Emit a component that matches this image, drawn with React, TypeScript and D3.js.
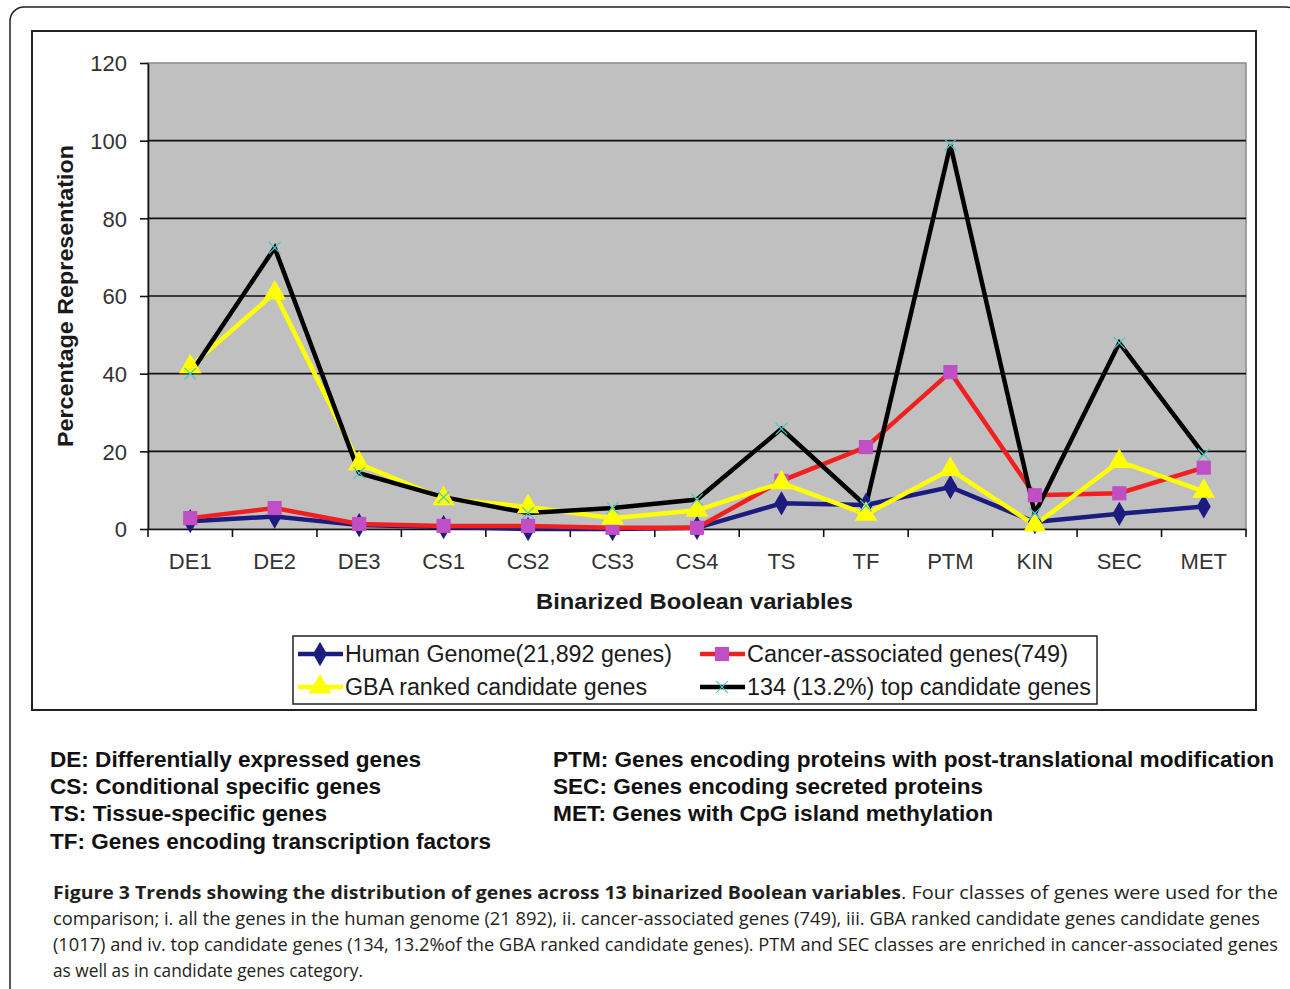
import * as d3 from 'd3';
import { useEffect, useRef } from 'react';

const categories = ['DE1', 'DE2', 'DE3', 'CS1', 'CS2', 'CS3', 'CS4', 'TS', 'TF', 'PTM', 'KIN', 'SEC', 'MET'];
const humanGenome = [2, 3.2, 1, 0.5, 0, 0, 0.3, 6.6, 6.2, 10.8, 1.8, 3.9, 5.8];
const cancerAssociated = [2.8, 5.4, 1.3, 0.8, 0.8, 0.3, 0.3, 12.4, 21.1, 40.4, 8.7, 9.2, 15.8];
const gbaRanked = [41.8, 60.8, 16.8, 7.8, 5.7, 2.8, 4.8, 11.9, 3.8, 15.3, 1, 17.4, 9.7];
const topCandidates = [40, 72.4, 14.4, 8.2, 4.1, 5.4, 7.6, 25.8, 6, 98.9, 4, 47.9, 19.2];
const yTicks = [0, 20, 40, 60, 80, 100, 120];

const legendLabels = [
    'Human Genome(21,892 genes)',
    'Cancer-associated genes(749)',
    'GBA ranked candidate genes',
    '134 (13.2%) top candidate genes',
];

const definitionsLeft = [
    'DE: Differentially expressed genes',
    'CS: Conditional specific genes',
    'TS: Tissue-specific genes',
    'TF: Genes encoding transcription factors',
];
const definitionsRight = [
    'PTM: Genes encoding proteins with post-translational modification',
    'SEC: Genes encoding secreted proteins',
    'MET: Genes with CpG island methylation',
];

const FONT = '"Liberation Sans", Arial, sans-serif';

type Series = { values: number[]; line: string; marker: string; shape: string; size: number };

const series: Series[] = [
    { values: humanGenome, line: '#1c1c80', marker: '#1c1c80', shape: 'diamond', size: 170 },
    { values: cancerAssociated, line: '#f02020', marker: '#c04ec4', shape: 'square', size: 200 },
    { values: gbaRanked, line: '#ffff00', marker: '#ffff00', shape: 'triangle', size: 220 },
    { values: topCandidates, line: '#000000', marker: '#48c8c8', shape: 'cross', size: 90 },
];

function symbolFor(shape: string) {
    switch (shape) {
        case 'diamond':
            return d3.symbolDiamond;
        case 'square':
            return d3.symbolSquare;
        case 'triangle':
            return d3.symbolTriangle;
        default:
            return d3.symbolX;
    }
}

export default function App() {
    const svgRef = useRef<SVGSVGElement>(null);
    const W = 1290;
    const H = 989;
    const plot = { left: 148, right: 1246, top: 63, bottom: 529 };

    useEffect(() => {
        const svg = d3.select(svgRef.current);
        svg.selectAll('*').remove();

        const xScale = d3.scaleBand().domain(categories).range([plot.left, plot.right]);
        const yScale = d3.scaleLinear().domain([0, 120]).range([plot.bottom, plot.top]);
        const cx = (c: string) => (xScale(c) || 0) + xScale.bandwidth() / 2;

        // outer figure border + chart frame
        svg.append('rect')
            .attr('x', 10).attr('y', 7).attr('width', W).attr('height', H + 20).attr('rx', 14)
            .attr('fill', 'white').attr('stroke', '#222').attr('stroke-width', 1.5);
        svg.append('rect')
            .attr('x', 32).attr('y', 31).attr('width', 1224).attr('height', 679)
            .attr('fill', 'white').attr('stroke', '#222').attr('stroke-width', 2);

        // plot area
        svg.append('rect')
            .attr('x', plot.left).attr('y', plot.top)
            .attr('width', plot.right - plot.left).attr('height', plot.bottom - plot.top)
            .attr('fill', '#c0c0c0').attr('stroke', '#8a8a8a').attr('stroke-width', 1.5);

        svg.append('g')
            .selectAll('line')
            .data(yTicks.filter((t) => t > 0 && t < 120))
            .enter()
            .append('line')
            .attr('x1', plot.left).attr('x2', plot.right)
            .attr('y1', (t) => yScale(t)).attr('y2', (t) => yScale(t))
            .attr('stroke', '#111').attr('stroke-width', 1.6);

        // y axis
        const yAxis = svg.append('g')
            .attr('transform', `translate(${plot.left}, 0)`)
            .call(d3.axisLeft(yScale).tickValues(yTicks).tickSize(8).tickPadding(13).tickSizeOuter(0));
        yAxis.select('.domain').attr('stroke', '#111').attr('stroke-width', 1.6);
        yAxis.selectAll('.tick line').attr('stroke', '#111').attr('stroke-width', 1.6);
        yAxis.selectAll('.tick text')
            .style('font-family', FONT).style('font-size', '22px').attr('fill', '#333').attr('dy', '0.36em');

        // x axis: labels centred, ticks on band boundaries
        const xAxis = svg.append('g')
            .attr('transform', `translate(0, ${plot.bottom})`)
            .call(d3.axisBottom(xScale).tickSize(0).tickPadding(24).tickSizeOuter(0));
        xAxis.select('.domain').attr('stroke', '#111').attr('stroke-width', 1.6);
        xAxis.selectAll('.tick text')
            .style('font-family', FONT).style('font-size', '22px').attr('fill', '#333');
        const bounds = categories.map((c) => xScale(c) || 0).concat([xScale.range()[1]]);
        svg.append('g')
            .selectAll('line')
            .data(bounds)
            .enter()
            .append('line')
            .attr('x1', (b) => b).attr('x2', (b) => b)
            .attr('y1', plot.bottom).attr('y2', plot.bottom + 8)
            .attr('stroke', '#111').attr('stroke-width', 1.6);

        // axis titles
        svg.append('text')
            .attr('transform', `translate(73, 296) rotate(-90)`)
            .attr('text-anchor', 'middle')
            .attr('textLength', 302).attr('lengthAdjust', 'spacingAndGlyphs')
            .style('font-family', FONT).style('font-size', '22px').style('font-weight', '700')
            .attr('fill', '#1a1a1a')
            .text('Percentage Representation');
        svg.append('text')
            .attr('x', 536).attr('y', 609)
            .attr('textLength', 317).attr('lengthAdjust', 'spacingAndGlyphs')
            .style('font-family', FONT).style('font-size', '22px').style('font-weight', '700')
            .attr('fill', '#1a1a1a')
            .text('Binarized Boolean variables');

        // lines then markers
        const line = d3.line<number>()
            .x((_, i) => cx(categories[i]))
            .y((v) => yScale(v));

        series.forEach((s) => {
            svg.append('path')
                .datum(s.values)
                .attr('d', line)
                .attr('fill', 'none')
                .attr('stroke', s.line)
                .attr('stroke-width', 4.5)
                .attr('stroke-linejoin', 'miter');
        });

        series.forEach((s) => {
            const sym = d3.symbol().type(symbolFor(s.shape)).size(s.size);
            svg.append('g')
                .selectAll('path')
                .data(s.values)
                .enter()
                .append('path')
                .attr('d', sym)
                .attr('transform', (v, i) => `translate(${cx(categories[i])}, ${yScale(v)})`)
                .attr('fill', s.marker)
                .attr('stroke', s.shape === 'cross' ? s.marker : 'none')
                .attr('stroke-width', s.shape === 'cross' ? 1.2 : 0);
        });

        // legend
        svg.append('rect')
            .attr('x', 293).attr('y', 636).attr('width', 804).attr('height', 68)
            .attr('fill', 'white').attr('stroke', '#222').attr('stroke-width', 1.5);

        const legendPos = [
            { x: 298, y: 654, len: 327 },
            { x: 700, y: 654, len: 321 },
            { x: 298, y: 687, len: 302 },
            { x: 700, y: 687, len: 344 },
        ];
        series.forEach((s, i) => {
            const p = legendPos[i];
            const g = svg.append('g');
            g.append('line')
                .attr('x1', p.x).attr('x2', p.x + 45).attr('y1', p.y).attr('y2', p.y)
                .attr('stroke', s.line).attr('stroke-width', 4.5);
            g.append('path')
                .attr('d', d3.symbol().type(symbolFor(s.shape)).size(s.size)())
                .attr('transform', `translate(${p.x + 22}, ${p.y})`)
                .attr('fill', s.marker)
                .attr('stroke', s.shape === 'cross' ? s.marker : 'none')
                .attr('stroke-width', 1.2);
            g.append('text')
                .attr('x', p.x + 47).attr('y', p.y + 8)
                .attr('textLength', p.len).attr('lengthAdjust', 'spacingAndGlyphs')
                .style('font-family', FONT).style('font-size', '23px')
                .attr('fill', '#1a1a1a')
                .text(legendLabels[i]);
        });

        // abbreviations
        const leftLens = [371, 331, 277, 441];
        const rightLens = [721, 430, 440];
        const defY = [767, 794, 821, 849];
        definitionsLeft.forEach((t, i) => {
            svg.append('text')
                .attr('x', 50).attr('y', defY[i])
                .attr('textLength', leftLens[i]).attr('lengthAdjust', 'spacingAndGlyphs')
                .style('font-family', FONT).style('font-size', '22px').style('font-weight', '700')
                .attr('fill', '#111')
                .text(t);
        });
        definitionsRight.forEach((t, i) => {
            svg.append('text')
                .attr('x', 553).attr('y', defY[i])
                .attr('textLength', rightLens[i]).attr('lengthAdjust', 'spacingAndGlyphs')
                .style('font-family', FONT).style('font-size', '22px').style('font-weight', '700')
                .attr('fill', '#111')
                .text(t);
        });

        // caption
        const CAP = '"Open Sans", "Noto Sans", sans-serif';
        const cap = svg.append('g').style('font-family', CAP).style('font-size', '18px').attr('fill', '#231f20');
        cap.append('text')
            .attr('x', 53).attr('y', 899)
            .attr('textLength', 848).attr('lengthAdjust', 'spacingAndGlyphs')
            .style('font-weight', '700')
            .text('Figure 3 Trends showing the distribution of genes across 13 binarized Boolean variables');
        cap.append('text')
            .attr('x', 901).attr('y', 899)
            .attr('textLength', 377).attr('lengthAdjust', 'spacingAndGlyphs')
            .text('. Four classes of genes were used for the');
        cap.append('text')
            .attr('x', 53).attr('y', 925)
            .attr('textLength', 1207).attr('lengthAdjust', 'spacingAndGlyphs')
            .text('comparison; i. all the genes in the human genome (21 892), ii. cancer-associated genes (749), iii. GBA ranked candidate genes candidate genes');
        cap.append('text')
            .attr('x', 53).attr('y', 951)
            .attr('textLength', 1225).attr('lengthAdjust', 'spacingAndGlyphs')
            .text('(1017) and iv. top candidate genes (134, 13.2%of the GBA ranked candidate genes). PTM and SEC classes are enriched in cancer-associated genes');
        cap.append('text')
            .attr('x', 53).attr('y', 977)
            .attr('textLength', 310).attr('lengthAdjust', 'spacingAndGlyphs')
            .text('as well as in candidate genes category.');
    }, []);

    return (
        <svg
            ref={svgRef}
            width={W}
            height={H}
            style={{ position: 'absolute', left: 0, top: 0, background: 'white' }}
        ></svg>
    );
}
